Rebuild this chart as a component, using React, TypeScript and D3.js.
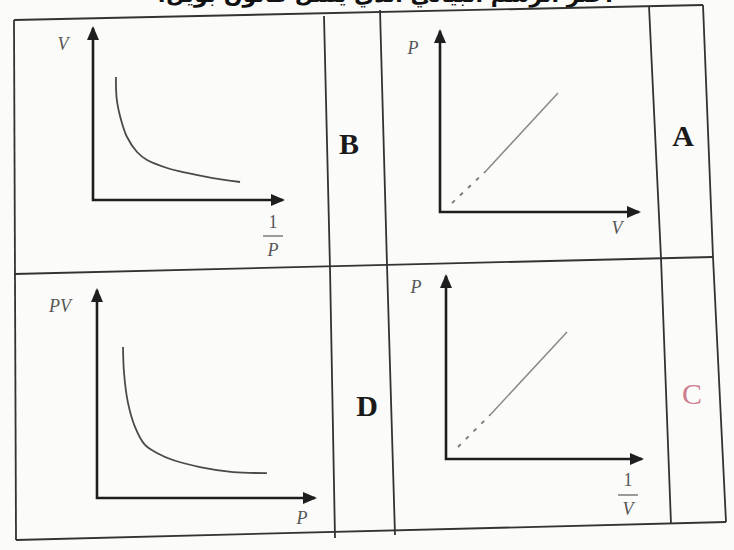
import * as React from 'react';
import * as d3 from 'd3';

// values, arbitrary units (0..10 on every axis)
const curveB: [number, number][] = [
  [1.26, 7.45], [1.31, 6.06], [1.59, 4.67], [1.87, 3.82], [2.42, 2.91],
  [2.97, 2.42], [4.07, 1.94], [5.16, 1.64], [6.59, 1.33], [8.08, 1.09],
];
const curveD: [number, number][] = [
  [1.25, 7.51], [1.3, 6.22], [1.49, 4.73], [1.83, 3.53], [2.31, 2.64],
  [2.88, 2.24], [3.65, 1.89], [4.95, 1.54], [6.54, 1.29], [8.17, 1.24],
];
// straight lines: dashed part near the origin, then solid
const lineA: [number, number][] = [[0.63, 0.52], [2.37, 2.33], [6.21, 6.92]];
const lineC: [number, number][] = [[0.63, 0.69], [2.32, 2.53], [6.37, 7.3]];

const letters = ['B', 'A', 'D', 'C'];
const letterColors = ['#1a1a1a', '#1a1a1a', '#1a1a1a', '#cf7d92'];

// table rules, the scan is slightly warped so they are polylines
const ruleLines: [number, number][][] = [
  [[14, 20], [703, 5]],
  [[14, 274], [713, 257]],
  [[16, 540], [726, 522]],
  [[14, 20], [16, 540]],
  [[324, 16], [330, 268], [335, 538]],
  [[380, 10], [387, 265], [395, 535]],
  [[649, 6], [661, 258], [671, 524]],
  [[703, 5], [713, 257], [726, 522]],
];

const panels = [
  { ox: 93, oy: 200, xTip: 283, yTip: 28, xr: [93, 275], yr: [200, 35], curve: curveB, line: null,
    yLab: { t: 'V', x: 63, y: 50 }, xLab: { num: '1', den: 'P', x: 273, y: 228, bar: 236 } },
  { ox: 440, oy: 212, xTip: 639, yTip: 31, xr: [440, 630], yr: [212, 40], curve: null, line: lineA,
    yLab: { t: 'P', x: 413, y: 54 }, xLab: { t: 'V', x: 617, y: 234 } },
  { ox: 97, oy: 498, xTip: 315, yTip: 290, xr: [97, 305], yr: [498, 297], curve: curveD, line: null,
    yLab: { t: 'PV', x: 60, y: 312 }, xLab: { t: 'P', x: 302, y: 524 } },
  { ox: 446, oy: 459, xTip: 642, yTip: 276, xr: [446, 636], yr: [459, 285], curve: null, line: lineC,
    yLab: { t: 'P', x: 416, y: 293 }, xLab: { num: '1', den: 'V', x: 628, y: 486, bar: 495 } },
];

const letterPos = [
  { x: 349, y: 154 }, { x: 683, y: 146 }, { x: 367, y: 416 }, { x: 692, y: 404 },
];

const labFont = { fontFamily: 'Liberation Serif', fontStyle: 'italic', fontSize: 18, fill: '#555' };

const App = () => {
  return (
    <svg width={734} height={550} style={{ position: 'absolute', left: 0, top: 0, background: '#fbfbf9' }}>
      <defs>
        <marker id="arr" viewBox="0 0 14 12" refX={12} refY={6} markerWidth={14} markerHeight={12}
          markerUnits="userSpaceOnUse" orient="auto-start-reverse">
          <path d="M0,0 L14,6 L0,12 Z" fill="#1e1e1e" />
        </marker>
      </defs>
      <rect width={734} height={550} fill="#fbfbf9" />
      {/* heading of the worksheet, cut off by the scan */}
      <text x={385} y={2} textAnchor="middle" direction="rtl" fontFamily="DejaVu Sans" fontWeight="bold"
        fontSize={22} fill="#111">اختر الرسم البياني الذي يمثل قانون بويل:</text>

      {ruleLines.map((pts, i) => (
        <polyline key={i} points={pts.map(p => p.join(',')).join(' ')} fill="none" stroke="#333" strokeWidth={1.8} />
      ))}

      {panels.map((p, i) => {
        const x = d3.scaleLinear().domain([0, 10]).range(p.xr);
        const y = d3.scaleLinear().domain([0, 10]).range(p.yr);
        const line = d3.line<[number, number]>().x(d => x(d[0])).y(d => y(d[1]));
        const smooth = d3.line<[number, number]>().x(d => x(d[0])).y(d => y(d[1])).curve(d3.curveCatmullRom);
        const xl: any = p.xLab;
        return (
          <g key={i}>
            <path d={`M${p.ox},${p.yTip} L${p.ox},${p.oy} L${p.xTip},${p.oy}`} fill="none" stroke="#1e1e1e"
              strokeWidth={2.6} markerStart="url(#arr)" markerEnd="url(#arr)" />
            {p.curve && <path d={smooth(p.curve) || ''} fill="none" stroke="#4a4a4a" strokeWidth={1.8} />}
            {p.line && (
              <g>
                <path d={line(p.line.slice(0, 2)) || ''} fill="none" stroke="#777" strokeWidth={1.8} strokeDasharray="4 7" />
                <path d={line(p.line.slice(1)) || ''} fill="none" stroke="#888" strokeWidth={1.5} />
              </g>
            )}
            <text x={p.yLab.x} y={p.yLab.y} textAnchor="middle" {...labFont}>{p.yLab.t}</text>
            {xl.t ? (
              <text x={xl.x} y={xl.y} textAnchor="middle" {...labFont}>{xl.t}</text>
            ) : (
              <g>
                <text x={xl.x} y={xl.y} textAnchor="middle" {...labFont} fontStyle="normal">{xl.num}</text>
                <line x1={xl.x - 10} x2={xl.x + 10} y1={xl.bar} y2={xl.bar} stroke="#666" strokeWidth={1.3} />
                <text x={xl.x} y={xl.bar + 20} textAnchor="middle" {...labFont}>{xl.den}</text>
              </g>
            )}
          </g>
        );
      })}

      {letters.map((l, i) => (
        <text key={l} x={letterPos[i].x} y={letterPos[i].y} textAnchor="middle" fontFamily="Liberation Serif"
          fontWeight={l === 'C' ? 'normal' : 'bold'} fontSize={30} fill={letterColors[i]}>{l}</text>
      ))}
    </svg>
  );
};

export default App;
